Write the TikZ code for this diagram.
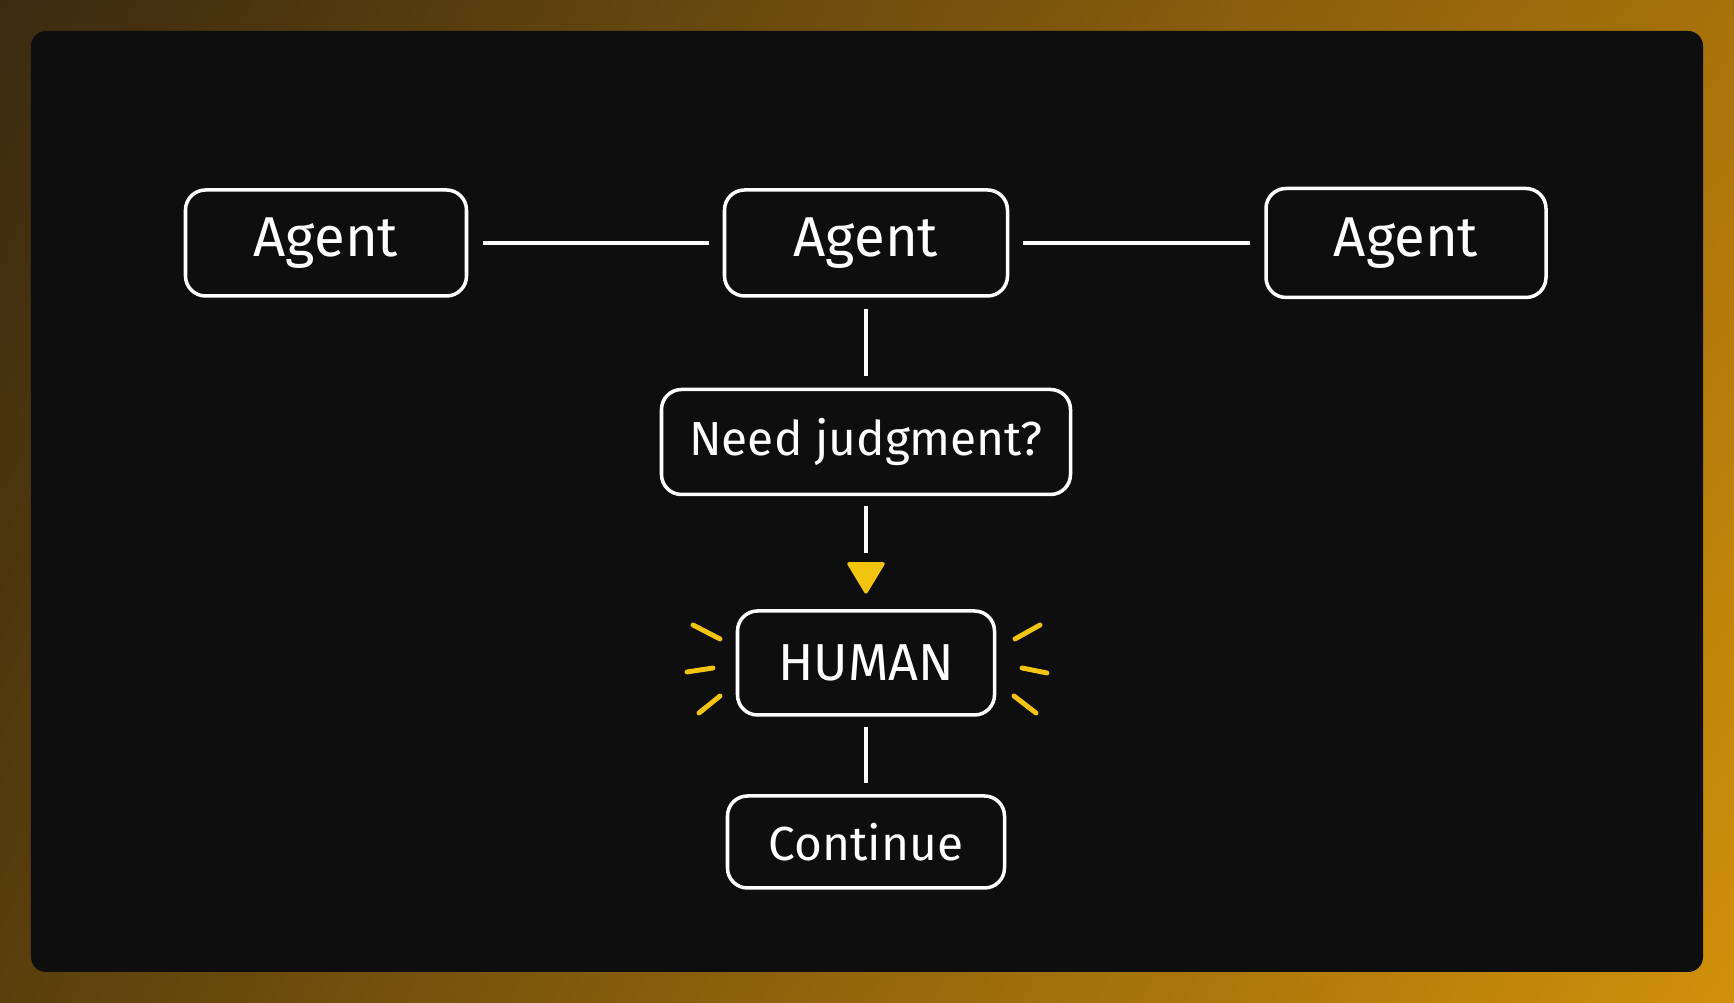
\documentclass[tikz,border=0pt]{standalone}
\usepackage{fontspec}
\setmainfont{Fira Sans}
\usetikzlibrary{positioning,shadings}
\definecolor{bgdark}{HTML}{3A2A10}
\definecolor{bgtopright}{HTML}{A8720A}
\definecolor{bgbotleft}{HTML}{5A3F0C}
\definecolor{bgorange}{HTML}{D0900A}
\definecolor{panel}{HTML}{0E0E0E}
\definecolor{hl}{HTML}{F2C40F}
\begin{document}
\begin{tikzpicture}[
        box/.style={rectangle, rounded corners=0.2cm, draw=white, line width=1pt, fill=panel, text=white, font=\fontsize{16}{19}\selectfont, align=center, inner sep=0pt},
        link/.style={draw=white, line width=1pt},
        ray/.style={draw=hl, line width=1.4pt, line cap=round}
    ]
    \useasboundingbox (0,0) rectangle (17.34,-10.03);
    \shade[upper left=bgdark, upper right=bgtopright, lower left=bgbotleft, lower right=bgorange] (0,0) rectangle (17.34,-10.03);
    \fill[panel, rounded corners=0.15cm] (0.31,-0.31) rectangle (17.03,-9.72);
    % top row
    \node[box, minimum width=2.81cm, minimum height=1.06cm] (a1) at (3.26,-2.43) {Agent};
    \node[box, minimum width=2.83cm, minimum height=1.06cm] (a2) at (8.66,-2.43) {Agent};
    \node[box, minimum width=2.80cm, minimum height=1.09cm] (a3) at (14.06,-2.43) {Agent};
    % escalation chain
    \node[box, minimum width=4.09cm, minimum height=1.05cm, font=\fontsize{13.6}{16}\selectfont] (need) at (8.66,-4.42) {Need judgment?};
    \node[box, minimum width=2.57cm, minimum height=1.04cm, font=\fontsize{14.8}{18}\selectfont] (human) at (8.66,-6.63) {HUMAN};
    \node[box, minimum width=2.77cm, minimum height=0.92cm, font=\fontsize{13.6}{16}\selectfont] (cont) at (8.66,-8.42) {Continue};
    \draw[link, shorten <=0.15cm, shorten >=0.14cm] (a1) -- (a2);
    \draw[link, shorten <=0.14cm, shorten >=0.14cm] (a2) -- (a3);
    \draw[link, shorten <=0.11cm, shorten >=0.12cm] (a2) -- (need);
    \coordinate (tip) at ([yshift=0.14cm]human.north);
    \draw[link, shorten <=0.1cm] (need.south) -- ([yshift=0.42cm]tip);
    \fill[hl, rounded corners=0.03cm] (tip) -- ++(-0.2,0.33) -- ++(0.4,0) -- cycle;
    \draw[link, shorten <=0.1cm, shorten >=0.11cm] (human) -- (cont);
    % rays around HUMAN
    \foreach \xa/\ya/\xb/\yb in {-1.73/0.38/-1.46/0.24, -1.79/-0.09/-1.53/-0.05, -1.67/-0.50/-1.46/-0.33,
                                 1.49/0.24/1.74/0.38, 1.56/-0.05/1.81/-0.10, 1.48/-0.33/1.70/-0.50}
        \draw[ray] ([shift={(\xa,\ya)}]human.center) -- ([shift={(\xb,\yb)}]human.center);
\end{tikzpicture}
\end{document}
